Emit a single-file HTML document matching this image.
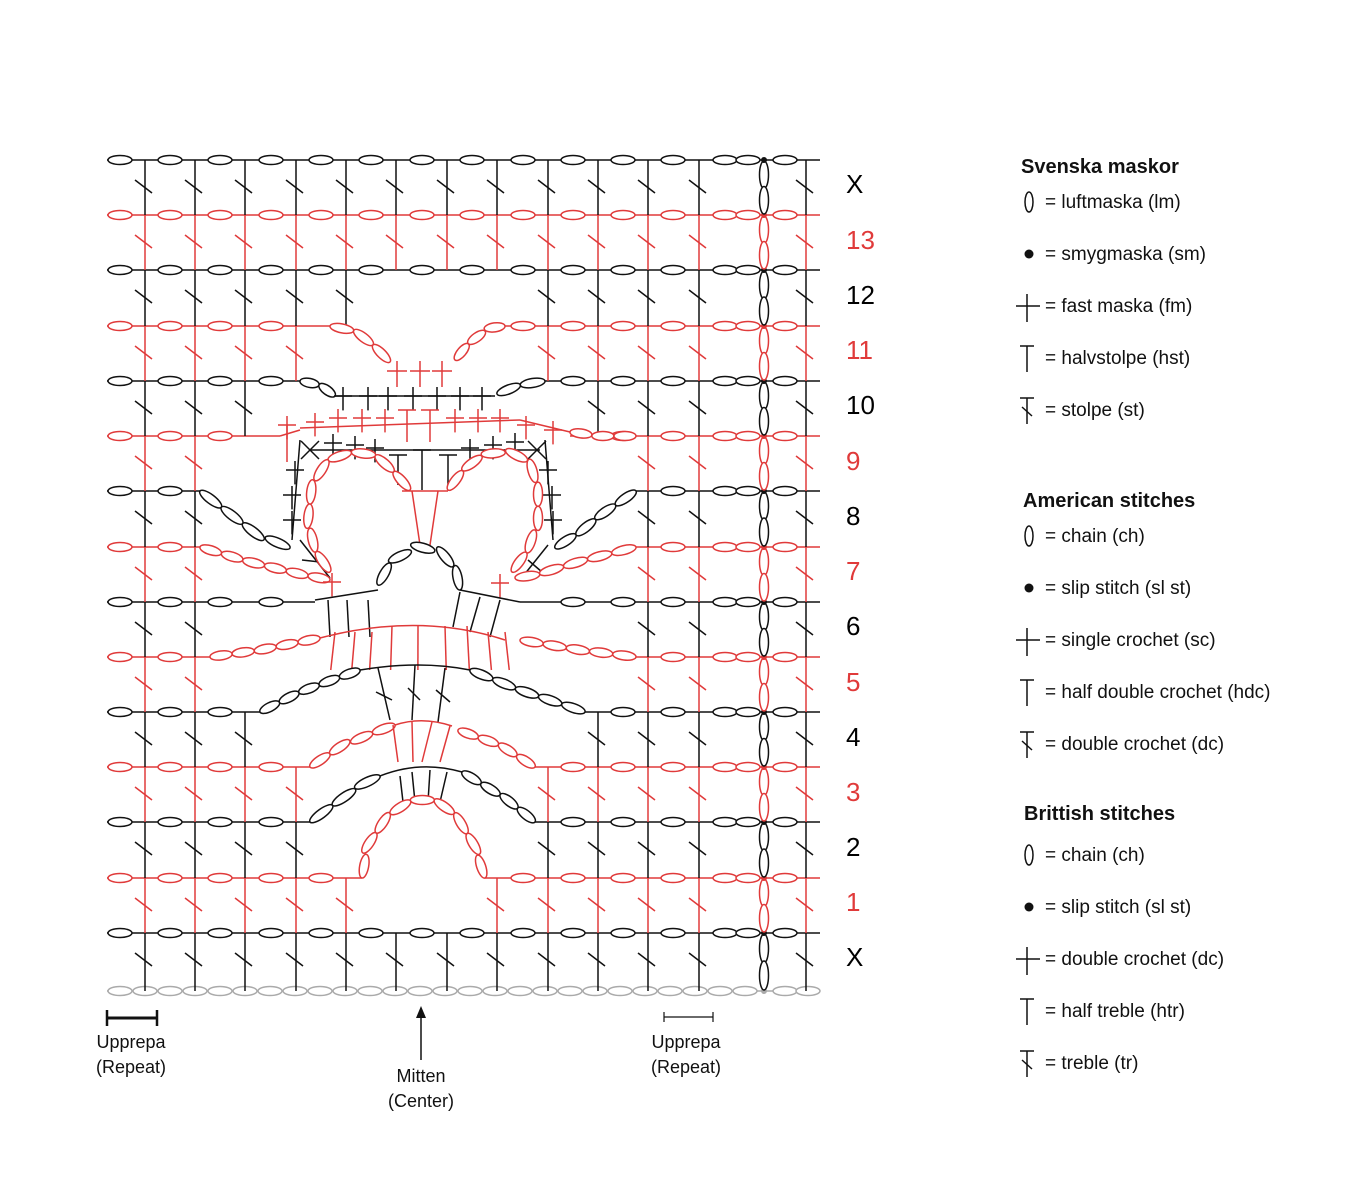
<!DOCTYPE html>
<html><head><meta charset="utf-8"><style>
html,body{margin:0;padding:0;background:#fff;width:1370px;height:1200px;overflow:hidden}
svg{position:absolute;left:0;top:0}
text{font-family:"Liberation Sans",sans-serif}
</style></head><body>
<svg id="s" width="1370" height="1200" viewBox="0 0 1370 1200" xmlns="http://www.w3.org/2000/svg">
<g id="g" fill="none" stroke-width="1.5"></g>
<g font-size="26">
<text x="846" y="193">X</text>
<text x="846" y="249" fill="#e03a3a">13</text>
<text x="846" y="304">12</text>
<text x="846" y="359" fill="#e03a3a">11</text>
<text x="846" y="414">10</text>
<text x="846" y="470" fill="#e03a3a">9</text>
<text x="846" y="525">8</text>
<text x="846" y="580" fill="#e03a3a">7</text>
<text x="846" y="635">6</text>
<text x="846" y="691" fill="#e03a3a">5</text>
<text x="846" y="746">4</text>
<text x="846" y="801" fill="#e03a3a">3</text>
<text x="846" y="856">2</text>
<text x="846" y="911" fill="#e03a3a">1</text>
<text x="846" y="966">X</text>
</g>
<g font-size="18" text-anchor="middle" fill="#111">
<text x="131" y="1048">Upprepa</text>
<text x="131" y="1073">(Repeat)</text>
<text x="686" y="1048">Upprepa</text>
<text x="686" y="1073">(Repeat)</text>
<text x="421" y="1082">Mitten</text>
<text x="421" y="1107">(Center)</text>
</g>
<g stroke="#111">
<line x1="107" y1="1018" x2="157" y2="1018" stroke-width="3"/>
<line x1="107" y1="1010" x2="107" y2="1026" stroke-width="2.5"/>
<line x1="157" y1="1010" x2="157" y2="1026" stroke-width="2.5"/>
<line x1="664" y1="1017" x2="713" y2="1017" stroke-width="1.2"/>
<line x1="664" y1="1012" x2="664" y2="1022" stroke-width="1.2"/>
<line x1="713" y1="1012" x2="713" y2="1022" stroke-width="1.2"/>
<line x1="421" y1="1060" x2="421" y2="1012" stroke-width="1.5"/>
</g>
<polygon points="421,1006 416,1018 426,1018" fill="#111"/>
<g font-size="20" font-weight="bold" fill="#111">
<text x="1021" y="173">Svenska maskor</text>
<text x="1023" y="507">American stitches</text>
<text x="1024" y="820">Brittish stitches</text>
</g>
<g font-size="19" fill="#111" id="leg">
<text x="1045" y="208">= luftmaska (lm)</text>
<text x="1045" y="260">= smygmaska (sm)</text>
<text x="1045" y="312">= fast maska (fm)</text>
<text x="1045" y="364">= halvstolpe (hst)</text>
<text x="1045" y="416">= stolpe (st)</text>
<text x="1045" y="542">= chain (ch)</text>
<text x="1045" y="594">= slip stitch (sl st)</text>
<text x="1045" y="646">= single crochet (sc)</text>
<text x="1045" y="698">= half double crochet (hdc)</text>
<text x="1045" y="750">= double crochet (dc)</text>
<text x="1045" y="861">= chain (ch)</text>
<text x="1045" y="913">= slip stitch (sl st)</text>
<text x="1045" y="965">= double crochet (dc)</text>
<text x="1045" y="1017">= half treble (htr)</text>
<text x="1045" y="1069">= treble (tr)</text>
</g>
</svg>
<script>
const NS="http://www.w3.org/2000/svg",G=document.getElementById('g');
const B='#111',R='#e03a3a',GR='#aaa';
function el(t,a){const e=document.createElementNS(NS,t);for(const k in a)e.setAttribute(k,a[k]);G.appendChild(e);return e;}
function ln(x1,y1,x2,y2,c,w){el('line',{x1,y1,x2,y2,stroke:c,'stroke-width':w||1.5});}
function ov(x,y,c,ang,rx,ry){el('ellipse',{cx:x,cy:y,rx:rx||12,ry:ry||4.5,stroke:c,fill:'#fff',transform:'rotate('+(ang||0)+' '+x+' '+y+')'});}
function dot(x,y,c){el('circle',{cx:x,cy:y,r:3,fill:c,stroke:'none'});}
function chain(p,c){let segs=[],L=0;for(let i=1;i<p.length;i++){const d=Math.hypot(p[i][0]-p[i-1][0],p[i][1]-p[i-1][1]);segs.push(d);L+=d;}
 const n=Math.max(1,Math.round(L/24)),st=L/n;
 for(let k=0;k<n;k++){let t=st*(k+.5),i=0;while(i<segs.length-1&&t>segs[i]){t-=segs[i];i++;}
  const a=p[i],b=p[i+1],f=t/segs[i],x=a[0]+(b[0]-a[0])*f,y=a[1]+(b[1]-a[1])*f;
  const ang=Math.atan2(b[1]-a[1],b[0]-a[0])*180/Math.PI;ov(x,y,c,ang,st/2,4.5);}}
function plus(x,y,c,s){s=s||10;ln(x-s,y,x+s,y,c);ln(x,y-s,x,y+s*1.6,c);}
function T(x,yt,yb,c,sl){ln(x-9,yt,x+9,yt,c);ln(x,yt,x,yb,c);if(sl){const m=(yt+yb)/2;ln(x-7,m-6,x+6,m+6,c);}}
function X(x,y,c){ln(x-9,y-9,x+9,y+9,c);ln(x+9,y-9,x-9,y+9,c);}
const Y=[160,215,270,326,381,436,491,547,602,657,712,767,822,878,933],BASE=991;
const chx=[120,170,220,271,321,371,422,472,523,573,623,673,725,748,785];
const rng={0:[[107,820]],1:[[107,820]],2:[[107,820]],3:[[107,330],[505,820]],4:[[107,300],[545,820]],5:[[107,280],[570,820]],
6:[[107,200],[636,820]],7:[[107,200],[636,820]],8:[[107,315],[520,820]],9:[[107,210],[636,820]],10:[[107,260],[585,820]],
11:[[107,310],[535,820]],12:[[107,310],[535,820]],13:[[107,362],[485,820]],14:[[107,820]]};
const A=[145,195,245,296,346,396,447,497,548,598,648,699];
const keep={0:A,1:A,14:A,2:[145,195,245,296,346,548,598,648,699],3:[145,195,245,296,548,598,648,699],4:[145,195,245,598,648,699],
5:[145,195,648,699],6:[145,195,648,699],7:[145,195,648,699],8:[145,195,648,699],9:[145,195,648,699],
10:[145,195,245,598,648,699],11:[145,195,245,296,548,598,648,699],12:[145,195,245,296,548,598,648,699],13:[145,195,245,296,346,497,548,598,648,699]};
ln(107,BASE,820,BASE,GR);
for(let x=120;x<=745;x+=25)ov(x,BASE,GR);ov(785,BASE,GR);ov(808,BASE,GR);dot(764,BASE,GR);
for(let i=14;i>=0;i--){
 const c=i%2?R:B,y=Y[i],yb=i<14?Y[i+1]:BASE;
 for(const x of keep[i].concat([806])){ln(x,y,x,yb,c);ln(x-10,y+20,x+7,y+33,c);}
 const h=(yb-y)/4;ov(764,y+h+1,c,90,h,4.5);ov(764,y+3*h-1,c,90,h,4.5);
 for(const r of rng[i])ln(r[0],y,r[1],y,c);
 for(const x of chx){if(rng[i].some(r=>x-12>=r[0]&&x+12<=r[1]))ov(x,y,c);}
 dot(764,y,c);
}
chain([[330,326],[355,331],[372,344],[390,362]],R);chain([[455,360],[470,342],[490,328],[505,326]],R);
[397,420,442].forEach(x=>plus(x,371,R,10));
chain([[300,381],[320,385],[335,396]],B);chain([[497,394],[520,385],[545,381]],B);
ln(335,396,495,396,B);[343,368,388,413,437,460,482].forEach(x=>plus(x,396,B,9));
ln(280,436,300,430,R);ln(300,428,520,420,R);ln(520,420,570,432,R);
plus(287,425,R,9);ln(287,425,287,462,R);plus(315,422,R,9);[338,362,385,455,478,500].forEach(x=>plus(x,418,R,9));
T(407,410,442,R);T(430,410,442,R);plus(526,425,R,9);plus(553,430,R,9);
chain([[570,432],[600,436],[636,436]],R);
ln(310,450,540,450,B);X(310,450,B);X(537,450,B);
[[333,443],[355,445],[375,448],[470,448],[493,445],[515,442]].forEach(p=>plus(p[0],p[1],B,9));
T(398,455,485,B);T(422,450,490,B);T(448,455,485,B);
[[295,470],[292,495],[292,520]].forEach(p=>plus(p[0],p[1],B,9));
[[548,470],[552,495],[553,520]].forEach(p=>plus(p[0],p[1],B,9));
ln(300,440,292,540,B);ln(545,440,553,540,B);
ln(300,540,330,578,B);ln(302,560,320,562,B);ln(548,545,520,580,B);ln(528,560,542,572,B);
chain([[410,490],[392,470],[375,455],[352,452],[328,460],[312,485],[308,520],[315,550],[330,572]],R);
chain([[448,490],[465,468],[485,454],[510,452],[530,462],[538,490],[538,520],[528,550],[512,572]],R);
ln(402,491,448,491,R);ln(412,491,420,545,R);ln(438,491,430,545,R);
chain([[378,585],[392,560],[420,547],[442,553],[456,570],[460,590]],B);
chain([[200,491],[225,510],[255,533],[290,548]],B);chain([[636,491],[605,512],[580,532],[555,548]],B);
chain([[200,547],[250,562],[300,574],[330,580]],R);chain([[636,547],[585,560],[535,575],[515,578]],R);
plus(332,582,R,9);plus(500,583,R,9);
ln(315,600,378,590,B);ln(460,590,520,602,B);
[328,347,368].forEach(x=>ln(x,600,x+2,637,B));
ln(460,592,453,627,B);ln(480,597,470,632,B);ln(500,600,490,637,B);
chain([[210,657],[260,650],[320,638]],R);
el('path',{d:'M320 638 Q420 612 505 640',stroke:R});
[335,355,372,392,418,445,467,488,505].forEach((x,k)=>ln(x,632-(k>2&&k<7?6:0),x+(x-420)/20,670,R));
chain([[520,640],[580,650],[636,657]],R);
chain([[260,712],[300,692],[340,677],[360,670]],B);
el('path',{d:'M360 670 Q420 660 470 670',stroke:B});
chain([[470,670],[520,690],[585,712]],B);
ln(378,668,390,720,B);ln(376,692,392,700,B);ln(415,665,412,720,B);ln(408,688,420,700,B);ln(445,668,438,722,B);ln(436,690,450,702,B);
chain([[310,767],[340,747],[375,732],[395,725]],R);
el('path',{d:'M395 725 Q422 716 452 726',stroke:R});
chain([[458,730],[500,745],[535,767]],R);
ln(393,725,398,762,R);ln(412,722,413,762,R);ln(432,722,422,762,R);ln(450,726,440,762,R);
chain([[310,822],[340,800],[365,783],[380,776]],B);
el('path',{d:'M380 776 Q420 760 462 772',stroke:B});
chain([[462,772],[505,798],[535,822]],B);
ln(400,776,403,802,B);ln(412,772,415,802,B);ln(430,770,428,802,B);ln(447,772,440,802,B);
chain([[362,878],[368,845],[388,815],[412,800],[435,800],[456,815],[474,845],[485,878]],R);
function legend(y0){const c=B;
 el('ellipse',{cx:1029,cy:y0-6,rx:4,ry:10,stroke:c,fill:'none'});
 el('circle',{cx:1029,cy:y0+46,r:4.5,fill:c,stroke:'none'});
 ln(1016,y0+98,1040,y0+98,c);ln(1027,y0+86,1027,y0+114,c);
 ln(1020,y0+138,1034,y0+138,c);ln(1027,y0+138,1027,y0+164,c);
 ln(1020,y0+190,1034,y0+190,c);ln(1027,y0+190,1027,y0+216,c);ln(1022,y0+199,1032,y0+208,c);}
legend(208);legend(542);legend(861);
</script>
</body></html>
